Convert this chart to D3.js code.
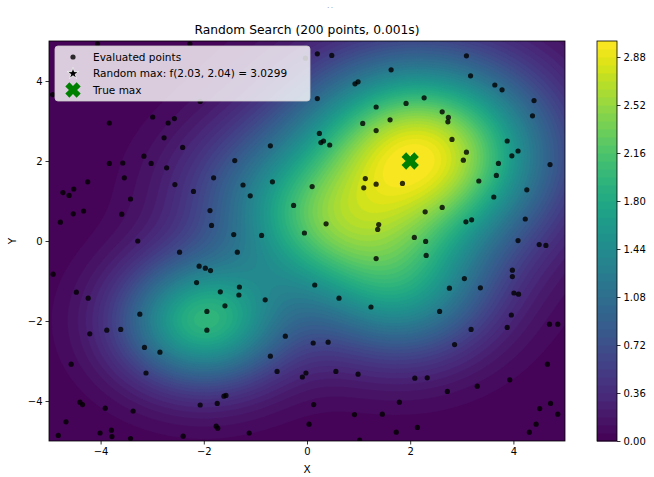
<!DOCTYPE html>
<html>
<head>
<meta charset="utf-8">
<script src="https://cdn.jsdelivr.net/npm/d3@7"></script>
<style>
body { margin: 0; background: #fff; }
text { font-family: "DejaVu Sans", sans-serif; fill: #000; }
</style>
</head>
<body>
<svg id="svg"></svg>
<script>
var width = 654, height = 477;

// surface bumps (gaussians) that make the background field
var peakX = [2.17, -2.0, 0.3, 1.8, -1.0];
var peakY = [2.14, -2.0, 0.2, -1.3, 1.2];
var peakH = [2.9, 1.9, 1.0, 1.3, 0.6];
var peakS = [1.66, 1.12, 1.10, 1.22, 1.22];
var fieldMax = 3.035;

// evaluated points
var pointsX = [-4.06,-2.27,-4.93,-2.07,-2.99,-3.83,-2.69,-2.57,-2.77,-2.41,-3.16,-3.83,-3.57,-3.02,-2.72,
	0.20,0.48,-0.03,1.63,0.93,0.99,0.20,1.34,1.61,1.08,1.34,0.24,0.27,0.32,0.44,-0.71,-1.40,
	3.09,3.17,3.64,3.78,4.40,4.37,1.92,2.27,2.62,2.74,2.73,2.81,3.88,4.09,3.97,3.09,3.03,3.71,4.71,3.67,
	-4.25,-3.54,-4.73,-4.61,-4.52,-3.42,-4.33,-4.53,-3.59,-4.78,-2.56,-2.20,-1.81,-1.88,-1.85,-3.28,-2.47,-4.92,-2.09,-1.97,-1.87,-2.14,-4.47,-4.24,-1.68,-1.94,
	1.13,1.34,1.10,-1.24,-0.67,0.10,-1.10,-0.26,0.37,-0.05,1.39,1.37,-1.42,-0.88,-1.35,1.34,0.15,-1.31,-1.32,-0.81,0.62,-1.59,1.24,
	1.85,3.33,4.26,3.62,2.29,2.62,3.08,3.19,4.23,2.08,2.30,2.31,4.09,4.50,4.63,3.98,3.98,3.05,2.76,3.36,4.01,4.10,2.57,
	-3.24,-1.94,-4.21,-3.88,-3.61,-3.15,-2.85,-4.57,-3.12,-4.40,-4.35,-3.91,-3.37,-2.07,-1.74,-1.76,-1.73,-4.67,-4.82,-4.01,-3.79,-3.78,-3.42,-2.40,
	-0.42,0.12,0.41,-0.71,-0.58,-0.02,-0.09,0.56,0.99,-1.61,-1.57,0.13,0.92,1.46,0.04,-1.12,1.02,
	3.96,3.88,4.70,4.86,3.18,2.86,4.66,2.09,2.33,3.93,3.30,2.72,1.79,4.72,4.51,4.86,4.44,2.14,1.73,4.31];
var pointsY = [4.93,4.93,3.66,3.49,3.10,2.95,2.95,3.06,2.58,2.34,2.12,1.94,1.95,1.94,1.83,
	4.68,4.64,4.57,4.28,3.93,3.98,3.56,3.35,3.03,2.94,2.76,2.69,2.46,2.50,2.40,2.38,2.01,
	4.63,4.13,3.90,3.78,3.51,3.13,3.44,3.58,3.23,3.09,2.98,2.54,2.50,2.25,2.13,2.22,2.02,1.94,1.91,1.64,
	1.48,1.58,1.21,1.14,1.30,1.05,0.75,0.68,0.67,0.47,1.41,1.24,1.58,0.76,0.39,0.00,-0.28,-0.83,-0.63,-0.68,-0.74,-1.04,-1.28,-1.43,-1.27,-1.76,
	1.56,1.42,1.33,1.40,1.48,1.36,1.13,0.89,0.43,0.20,0.41,0.29,0.16,0.14,-0.28,-0.44,-1.10,-1.15,-1.35,-1.47,-1.43,-1.62,-1.65,
	1.44,1.50,1.28,1.10,0.73,0.84,0.48,0.53,0.55,0.09,-0.01,-0.36,0.01,-0.09,-0.11,-0.73,-0.89,-0.94,-1.18,-1.17,-1.30,-1.33,-1.76,
	-1.83,-2.23,-2.32,-2.23,-2.21,-2.66,-2.78,-3.08,-3.30,-4.03,-4.09,-4.18,-4.25,-4.10,-4.06,-4.63,-4.68,-4.52,-4.86,-4.80,-4.73,-4.89,-4.94,-4.88,
	-2.38,-2.55,-2.53,-2.88,-3.26,-3.30,-3.40,-3.26,-3.33,-3.88,-3.86,-4.09,-4.34,-4.33,-4.58,-4.80,-4.98,
	-1.85,-2.16,-2.08,-2.08,-2.21,-2.59,-3.08,-3.43,-3.42,-3.47,-3.63,-3.76,-4.03,-4.06,-4.19,-4.33,-4.58,-4.66,-4.78,-4.78];

var bestX = 2.03, bestY = 2.04, bestVal = 3.0299;
var trueX = 2.0, trueY = 2.0;

var xTicks = [-4, -2, 0, 2, 4];
var yTicks = [-4, -2, 0, 2, 4];
var cbTicks = [0.00, 0.36, 0.72, 1.08, 1.44, 1.80, 2.16, 2.52, 2.88];
var levelStep = 0.06, levelMax = 3.0;

var svg = d3.select("#svg")
	.attr("width", width)
	.attr("height", height);

var plotL = 49, plotR = 565, plotT = 41, plotB = 441;

var x = d3.scaleLinear().domain([-5, 5]).range([plotL, plotR]);
var y = d3.scaleLinear().domain([-5, 5]).range([plotB, plotT]);

function f(px, py)
{
	var v = 0;
	for (var k = 0; k < peakX.length; k++) {
		var d2 = (px - peakX[k]) * (px - peakX[k]) + (py - peakY[k]) * (py - peakY[k]);
		v += peakH[k] * Math.exp(-d2 / (2 * peakS[k] * peakS[k]));
	}
	return v;
}

// grid of values, scaled so the top equals the true max
var nx = 240, ny = 200;
var values = new Array(nx * ny);
for (var j = 0; j < ny; j++) {
	for (var i = 0; i < nx; i++) {
		var gx0 = -5 + (i + 0.5) * 10 / nx;
		var gy0 = -5 + (j + 0.5) * 10 / ny;
		values[j * nx + i] = f(gx0, gy0);
	}
}
var rawMax = d3.max(values);
for (var m = 0; m < values.length; m++) {
	values[m] = Math.min(values[m] * fieldMax / rawMax, levelMax - 1e-6);
}

var levels = d3.range(0, levelMax + 1e-9, levelStep);
var nBands = levels.length - 1;
function bandColor(k) { return d3.interpolateViridis((k + 0.5) / nBands); }

svg.append("clipPath").attr("id", "clip")
	.append("rect").attr("x", plotL).attr("y", plotT).attr("width", plotR - plotL).attr("height", plotB - plotT);

var field = svg.append("g").attr("clip-path", "url(#clip)");
field.append("rect")
	.attr("x", plotL).attr("y", plotT).attr("width", plotR - plotL).attr("height", plotB - plotT)
	.attr("fill", bandColor(0));

var contours = d3.contours().size([nx, ny]).thresholds(levels.slice(1, nBands))(values);
var proj = d3.geoTransform({
	point: function(cx, cy) { this.stream.point(x(-5 + cx * 10 / nx), y(-5 + cy * 10 / ny)); }
});
var path = d3.geoPath(proj);

field.selectAll("path.band")
	.data(contours)
	.enter()
	.append("path")
	.attr("class", "band")
	.attr("d", path)
	.attr("fill", function(d, i) { return bandColor(i + 1); })
	.attr("stroke", function(d, i) { return bandColor(i + 1); })
	.attr("stroke-width", 0.4);

// points
var pts = d3.range(pointsX.length).map(function(i) { return [pointsX[i], pointsY[i]]; });
field.selectAll(".dot")
	.data(pts)
	.enter()
	.append("circle")
	.attr("class", "dot")
	.attr("cx", function(d) { return x(d[0]); })
	.attr("cy", function(d) { return y(d[1]); })
	.attr("r", 2.6)
	.style("fill", "#000")
	.style("opacity", 0.8);

function starPath(r)
{
	var p = [];
	for (var k = 0; k < 10; k++) {
		var a = -Math.PI / 2 + k * Math.PI / 5;
		var rr = k % 2 === 0 ? r : r * 0.38;
		p.push([rr * Math.cos(a), rr * Math.sin(a)]);
	}
	return "M" + p.join("L") + "Z";
}
function xPath(r)
{
	var a = r * 0.36;
	var base = [[-a, -r], [a, -r], [a, -a], [r, -a], [r, a], [a, a], [a, r], [-a, r], [-a, a], [-r, a], [-r, -a], [-a, -a]];
	var c = Math.SQRT1_2;
	var p = base.map(function(q) { return [(q[0] - q[1]) * c, (q[0] + q[1]) * c]; });
	return "M" + p.join("L") + "Z";
}

field.append("path")
	.attr("d", starPath(6))
	.attr("transform", "translate(" + x(bestX) + "," + y(bestY) + ")")
	.attr("fill", "#000").attr("stroke", "#fff").attr("stroke-width", 0.8);

field.append("path")
	.attr("d", xPath(9))
	.attr("transform", "translate(" + x(trueX) + "," + y(trueY) + ")")
	.attr("fill", "#008000");

// frame
svg.append("rect")
	.attr("x", plotL).attr("y", plotT).attr("width", plotR - plotL).attr("height", plotB - plotT)
	.attr("fill", "none").attr("stroke", "#000").attr("stroke-width", 0.8);

var xAxis = d3.axisBottom(x).tickValues(xTicks).tickSize(3.5).tickPadding(3)
	.tickFormat(function(d) { return d < 0 ? "\u2212" + (-d) : d; });
var yAxis = d3.axisLeft(y).tickValues(yTicks).tickSize(3.5).tickPadding(3)
	.tickFormat(function(d) { return d < 0 ? "\u2212" + (-d) : d; });

var gx = svg.append("g").attr("transform", "translate(0," + plotB + ")").call(xAxis);
var gy = svg.append("g").attr("transform", "translate(" + plotL + ",0)").call(yAxis);
[gx, gy].forEach(function(g) {
	g.select(".domain").remove();
	g.selectAll("text").style("font-size", "10px").style("font-family", "DejaVu Sans");
	g.selectAll("line").attr("stroke-width", 0.8);
});

svg.append("text").attr("x", (plotL + plotR) / 2).attr("y", 473)
	.attr("text-anchor", "middle").style("font-size", "10.5px").text("X");
svg.append("text").attr("transform", "translate(16," + (plotT + plotB) / 2 + ") rotate(-90)")
	.attr("text-anchor", "middle").style("font-size", "10.5px").text("Y");

svg.append("text").attr("x", (plotL + plotR) / 2).attr("y", 34)
	.attr("text-anchor", "middle").style("font-size", "12.3px").text("Random Search (200 points, 0.001s)");
svg.append("text").attr("x", 330).attr("y", 8)
	.attr("text-anchor", "middle").style("font-size", "6px").style("fill", "#555").text(". .");

// legend
var lg = svg.append("g");
lg.append("rect")
	.attr("x", 55).attr("y", 46).attr("width", 255).attr("height", 55).attr("rx", 3)
	.attr("fill", "#fff").attr("fill-opacity", 0.8).attr("stroke", "#ccc").attr("stroke-width", 0.8);
var rows = [
	{ label: "Evaluated points", y: 57 },
	{ label: "Random max: f(" + bestX.toFixed(2) + ", " + bestY.toFixed(2) + ") = " + bestVal.toFixed(4), y: 73.5 },
	{ label: "True max", y: 90 }
];
lg.append("circle").attr("cx", 73).attr("cy", rows[0].y).attr("r", 2.6).attr("fill", "#000").attr("opacity", 0.8);
lg.append("path").attr("d", starPath(6)).attr("transform", "translate(73," + rows[1].y + ")")
	.attr("fill", "#000").attr("stroke", "#fff").attr("stroke-width", 0.8);
lg.append("path").attr("d", xPath(8)).attr("transform", "translate(73," + rows[2].y + ")")
	.attr("fill", "#008000");
lg.selectAll("text.lab")
	.data(rows)
	.enter()
	.append("text")
	.attr("class", "lab")
	.attr("x", 93)
	.attr("y", function(d) { return d.y + 3.8; })
	.style("font-size", "10.5px")
	.text(function(d) { return d.label; });

// colorbar
var cbLeft = 597, cbW = 20;
var cbScale = d3.scaleLinear().domain([0, levelMax]).range([plotB, plotT]);
svg.append("g").selectAll("rect")
	.data(d3.range(nBands))
	.enter()
	.append("rect")
	.attr("x", cbLeft)
	.attr("y", function(k) { return cbScale(levels[k + 1]); })
	.attr("width", cbW)
	.attr("height", function(k) { return cbScale(levels[k]) - cbScale(levels[k + 1]) + 0.5; })
	.attr("fill", function(k) { return bandColor(k); });
svg.append("rect")
	.attr("x", cbLeft).attr("y", plotT).attr("width", cbW).attr("height", plotB - plotT)
	.attr("fill", "none").attr("stroke", "#000").attr("stroke-width", 0.8);
var cbAxis = d3.axisRight(cbScale).tickValues(cbTicks).tickSize(3.5).tickPadding(3).tickFormat(d3.format(".2f"));
var gc = svg.append("g").attr("transform", "translate(" + (cbLeft + cbW) + ",0)").call(cbAxis);
gc.select(".domain").remove();
gc.selectAll("text").style("font-size", "10px").style("font-family", "DejaVu Sans");
gc.selectAll("line").attr("stroke-width", 0.8);
</script>
</body>
</html>
